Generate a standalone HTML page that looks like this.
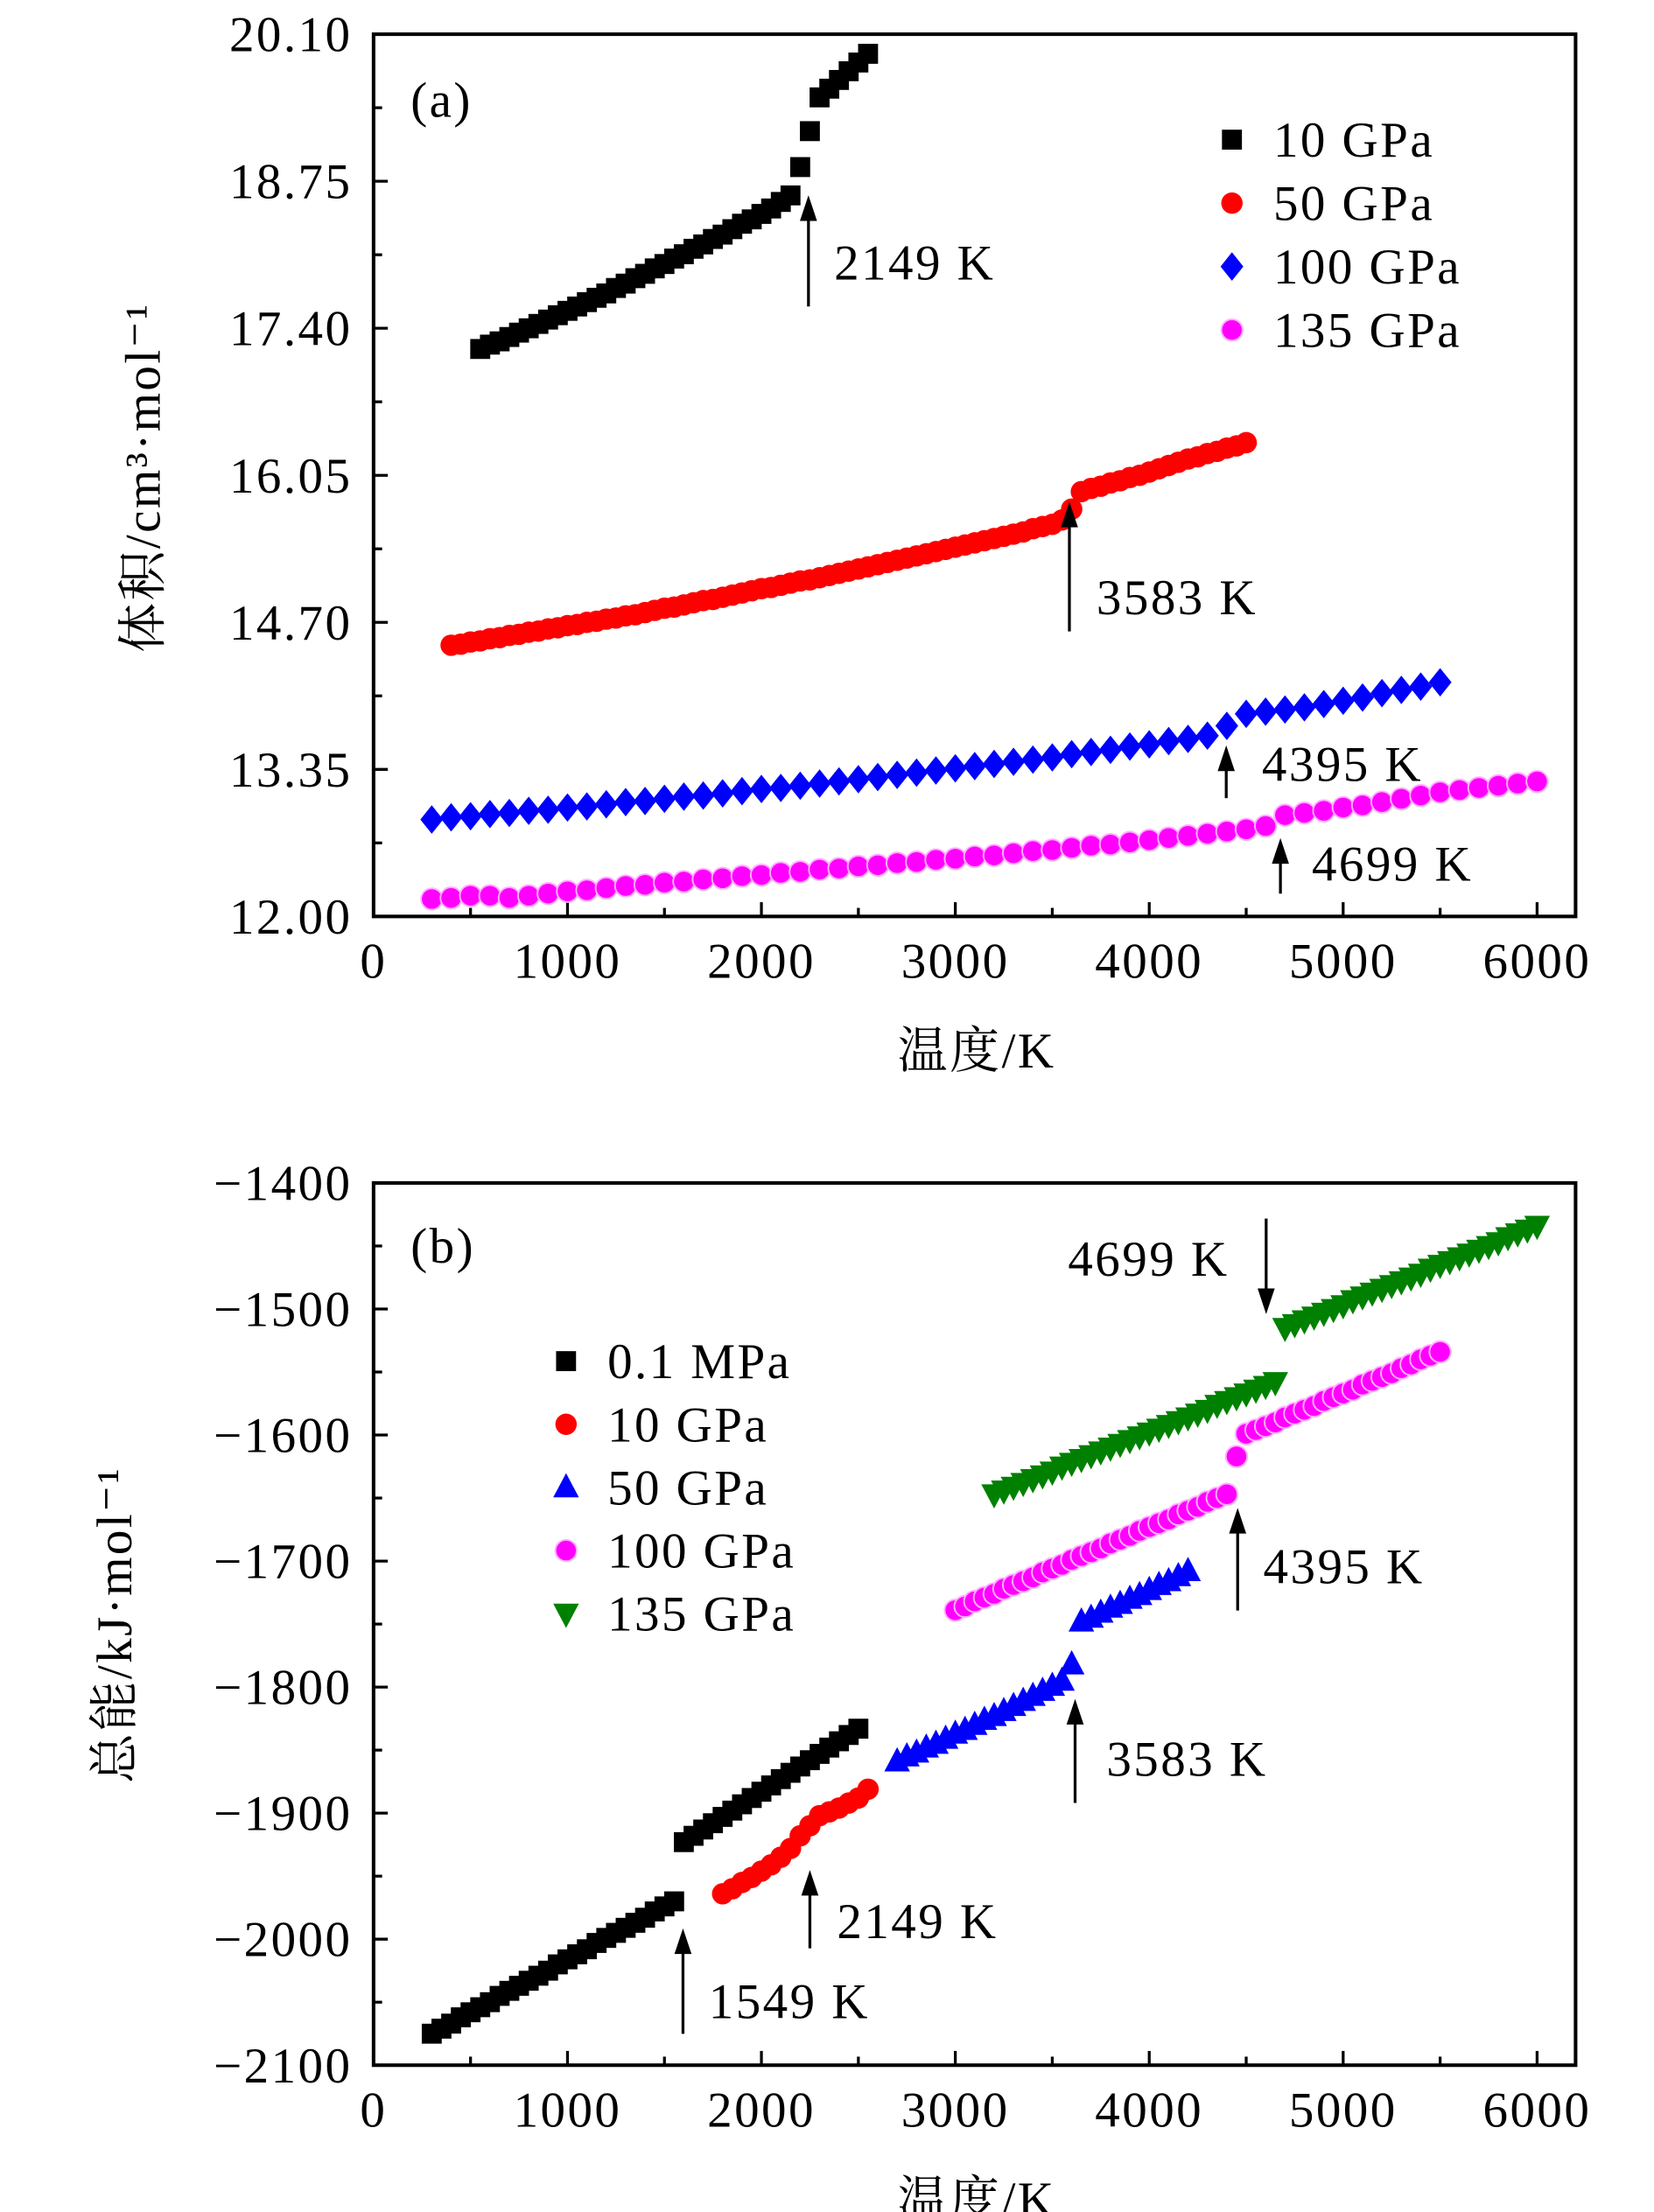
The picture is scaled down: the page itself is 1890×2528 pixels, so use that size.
<!DOCTYPE html>
<html><head><meta charset="utf-8">
<style>html,body{margin:0;padding:0;background:#fff}svg{display:block}
text{font-family:"Liberation Serif","Noto Serif CJK SC",serif;fill:#000;letter-spacing:1.5px}</style></head>
<body>
<svg id="fig" width="1890" height="2528" viewBox="0 0 1160 1552" preserveAspectRatio="none" xmlns="http://www.w3.org/2000/svg"></svg>
<script>
// ---- Panel (a) data ----
const aT10 = [550,600,650,700,750,800,850,900,950,1000,1050,1100,1150,1200,1250,1300,1350,1400,1450,1500,1550,1600,1650,1700,1750,1800,1850,1900,1950,2000,2050,2100,2150,2200,2250,2300,2350,2400,2450,2500,2550];
const aV10 = [17.21,17.25,17.28,17.32,17.36,17.40,17.44,17.48,17.52,17.56,17.60,17.64,17.68,17.72,17.77,17.81,17.86,17.90,17.95,17.99,18.04,18.08,18.13,18.17,18.22,18.26,18.31,18.36,18.40,18.45,18.50,18.56,18.62,18.88,19.21,19.52,19.60,19.68,19.76,19.84,19.92];
const aT50 = [400,450,500,550,600,650,700,750,800,850,900,950,1000,1050,1100,1150,1200,1250,1300,1350,1400,1450,1500,1550,1600,1650,1700,1750,1800,1850,1900,1950,2000,2050,2100,2150,2200,2250,2300,2350,2400,2450,2500,2550,2600,2650,2700,2750,2800,2850,2900,2950,3000,3050,3100,3150,3200,3250,3300,3350,3400,3450,3500,3550,3600,3650,3700,3750,3800,3850,3900,3950,4000,4050,4100,4150,4200,4250,4300,4350,4400,4450,4500];
const aV50 = [14.49,14.50,14.52,14.53,14.55,14.56,14.58,14.59,14.61,14.62,14.64,14.65,14.67,14.68,14.70,14.71,14.73,14.74,14.76,14.77,14.79,14.81,14.83,14.84,14.86,14.88,14.90,14.91,14.93,14.95,14.97,14.99,15.01,15.02,15.04,15.06,15.08,15.09,15.11,15.13,15.15,15.17,15.19,15.21,15.23,15.25,15.27,15.29,15.31,15.33,15.35,15.37,15.39,15.41,15.43,15.45,15.47,15.49,15.51,15.53,15.56,15.58,15.60,15.64,15.74,15.90,15.93,15.95,15.98,16.00,16.03,16.05,16.08,16.11,16.14,16.17,16.20,16.22,16.25,16.27,16.30,16.32,16.35];
const aT100 = [300,400,500,600,700,800,900,1000,1100,1200,1300,1400,1500,1600,1700,1800,1900,2000,2100,2200,2300,2400,2500,2600,2700,2800,2900,3000,3100,3200,3300,3400,3500,3600,3700,3800,3900,4000,4100,4200,4300,4400,4500,4600,4700,4800,4900,5000,5100,5200,5300,5400,5500];
const aV100 = [12.89,12.91,12.92,12.94,12.95,12.97,12.98,13.00,13.01,13.03,13.05,13.06,13.08,13.10,13.11,13.13,13.15,13.17,13.18,13.20,13.22,13.24,13.26,13.28,13.30,13.32,13.34,13.36,13.38,13.40,13.42,13.44,13.46,13.49,13.51,13.53,13.56,13.58,13.61,13.63,13.66,13.75,13.86,13.88,13.90,13.92,13.95,13.98,14.01,14.05,14.08,14.11,14.15];
const aT135 = [300,400,500,600,700,800,900,1000,1100,1200,1300,1400,1500,1600,1700,1800,1900,2000,2100,2200,2300,2400,2500,2600,2700,2800,2900,3000,3100,3200,3300,3400,3500,3600,3700,3800,3900,4000,4100,4200,4300,4400,4500,4600,4700,4800,4900,5000,5100,5200,5300,5400,5500,5600,5700,5800,5900,6000];
const aV135 = [12.16,12.17,12.19,12.19,12.17,12.19,12.21,12.23,12.24,12.26,12.28,12.29,12.31,12.32,12.34,12.35,12.37,12.38,12.40,12.41,12.43,12.44,12.46,12.47,12.49,12.50,12.52,12.53,12.55,12.56,12.58,12.60,12.61,12.63,12.65,12.66,12.68,12.70,12.72,12.74,12.76,12.78,12.80,12.83,12.93,12.95,12.97,13.00,13.02,13.05,13.08,13.11,13.14,13.16,13.18,13.20,13.22,13.24];
const aYTicks = ["12.00","13.35","14.70","16.05","17.40","18.75","20.10"];
const xTicks = ["0","1000","2000","3000","4000","5000","6000"];
// ---- Panel (b) data ----
const bT01 = [300,350,400,450,500,550,600,650,700,750,800,850,900,950,1000,1050,1100,1150,1200,1250,1300,1350,1400,1450,1500,1550,1600,1650,1700,1750,1800,1850,1900,1950,2000,2050,2100,2150,2200,2250,2300,2350,2400,2450,2500];
const bE01 = [-2075,-2071,-2067,-2062,-2058,-2054,-2050,-2045,-2041,-2037,-2033,-2029,-2025,-2020,-2016,-2012,-2008,-2003,-1999,-1995,-1991,-1987,-1983,-1978,-1974,-1970,-1923,-1918,-1913,-1908,-1903,-1898,-1893,-1888,-1883,-1878,-1873,-1868,-1863,-1858,-1853,-1848,-1843,-1838,-1833];
const bT10 = [1800,1850,1900,1950,2000,2050,2100,2150,2200,2250,2300,2350,2400,2450,2500,2550];
const bE10 = [-1964,-1960,-1955,-1951,-1946,-1941,-1935,-1928,-1918,-1910,-1902,-1899,-1896,-1892,-1888,-1881];
const bT50 = [2700,2750,2800,2850,2900,2950,3000,3050,3100,3150,3200,3250,3300,3350,3400,3450,3500,3550,3600,3650,3700,3750,3800,3850,3900,3950,4000,4050,4100,4150,4200];
const bE50 = [-1859,-1855,-1852,-1848,-1845,-1841,-1837,-1834,-1830,-1826,-1823,-1819,-1815,-1811,-1807,-1803,-1799,-1795,-1782,-1748,-1745,-1741,-1737,-1734,-1730,-1727,-1723,-1719,-1716,-1712,-1708];
const bT100 = [3000,3050,3100,3150,3200,3250,3300,3350,3400,3450,3500,3550,3600,3650,3700,3750,3800,3850,3900,3950,4000,4050,4100,4150,4200,4250,4300,4350,4400,4450,4500,4550,4600,4650,4700,4750,4800,4850,4900,4950,5000,5050,5100,5150,5200,5250,5300,5350,5400,5450,5500];
const bE100 = [-1739,-1736,-1732,-1729,-1726,-1722,-1719,-1716,-1713,-1709,-1706,-1703,-1699,-1696,-1693,-1690,-1686,-1683,-1680,-1676,-1673,-1670,-1667,-1663,-1660,-1657,-1653,-1650,-1647,-1617,-1599,-1596,-1593,-1590,-1586,-1583,-1580,-1577,-1573,-1570,-1567,-1564,-1560,-1557,-1554,-1551,-1547,-1544,-1540,-1537,-1534];
const bT135 = [3200,3250,3300,3350,3400,3450,3500,3550,3600,3650,3700,3750,3800,3850,3900,3950,4000,4050,4100,4150,4200,4250,4300,4350,4400,4450,4500,4550,4600,4650,4700,4750,4800,4850,4900,4950,5000,5050,5100,5150,5200,5250,5300,5350,5400,5450,5500,5550,5600,5650,5700,5750,5800,5850,5900,5950,6000];
const bE135 = [-1647,-1644,-1641,-1638,-1635,-1632,-1629,-1625,-1622,-1619,-1616,-1613,-1610,-1607,-1604,-1601,-1598,-1595,-1592,-1589,-1586,-1583,-1580,-1576,-1573,-1570,-1567,-1564,-1561,-1558,-1515,-1512,-1509,-1506,-1503,-1500,-1497,-1493,-1490,-1487,-1484,-1481,-1478,-1475,-1472,-1468,-1465,-1462,-1459,-1456,-1453,-1450,-1447,-1443,-1440,-1437,-1434];
const bYTicks = ["−2100","−2000","−1900","−1800","−1700","−1600","−1500","−1400"];

const NS = "http://www.w3.org/2000/svg";
const svg = document.getElementById('fig');
function mk(tag, attrs, parent){const e=document.createElementNS(NS,tag);for(const k in attrs)e.setAttribute(k,attrs[k]);(parent||svg).appendChild(e);return e;}
const L=262,R=1105,X0=262,X6=1078;
function sx(t){return X0+(t/6000)*(X6-X0);}

function marker(g,type,x,y,color){
  let e;
  if(type==='sq'){e=mk('rect',{x:x-7,y:y-7,width:14,height:14,fill:color},g);}
  else if(type==='ci'){e=mk('circle',{cx:x,cy:y,r:7.5,fill:color},g);}
  else if(type==='sp'){e=mk('circle',{cx:x,cy:y,r:7.5,fill:color,stroke:'#ffb0ff','stroke-width':1.2},g);}
  else if(type==='di'){e=mk('polygon',{points:`${x},${y-10} ${x+8},${y} ${x},${y+10} ${x-8},${y}`,fill:color},g);}
  else if(type==='tu'){e=mk('polygon',{points:`${x},${y-10} ${x+9},${y+7} ${x-9},${y+7}`,fill:color},g);}
  else if(type==='td'){e=mk('polygon',{points:`${x},${y+10} ${x+9},${y-7} ${x-9},${y-7}`,fill:color},g);}
  
  
  return e;
}
function txt(x,y,s,attrs,name,parent){const t=mk('text',Object.assign({x:x,y:y,'font-size':35},attrs||{}),parent);t.textContent=s;
  
  
  return t;}
function arrow(x,y1,y2,name){
  const g=mk('g',{});
  
  
  const d=y2<y1?1:-1;
  mk('line',{x1:x,y1:y1,x2:x,y2:y2+d*10,stroke:'#000','stroke-width':2},g);
  mk('polygon',{points:`${x},${y2} ${x-6},${y2+d*18} ${x+6},${y2+d*18}`,fill:'#000'},g);
}

function panel(cfg){
  const g=mk('g',{});
  
  
  const sy=v=>cfg.B-(v-cfg.vmin)/(cfg.vmax-cfg.vmin)*(cfg.B-cfg.T);
  const fr=mk('rect',{x:L,y:cfg.T,width:R-L,height:cfg.B-cfg.T,fill:'none',stroke:'#000','stroke-width':2.5},g);
  
  
  const n=cfg.yt.length;
  for(let i=0;i<n;i++){
    const v=cfg.vmin+(cfg.vmax-cfg.vmin)*i/(n-1), y=sy(v);
    mk('line',{x1:L,y1:y,x2:L+10,y2:y,stroke:'#000','stroke-width':2},g);
    if(i<n-1){const ym=sy(v+(cfg.vmax-cfg.vmin)/(n-1)/2);mk('line',{x1:L,y1:ym,x2:L+6,y2:ym,stroke:'#000','stroke-width':2},g);}
    txt(247,y+12,cfg.yt[i],{'text-anchor':'end'},'y-tick-label',g);
  }
  for(let i=0;i<xTicks.length;i++){
    const t=i*1000,x=sx(t);
    mk('line',{x1:x,y1:cfg.B,x2:x,y2:cfg.B-10,stroke:'#000','stroke-width':2},g);
    const xm=sx(t+500); if(xm<R) mk('line',{x1:xm,y1:cfg.B,x2:xm,y2:cfg.B-6,stroke:'#000','stroke-width':2},g);
    txt(x,cfg.B+43,xTicks[i],{'text-anchor':'middle'},'x-tick-label',g);
  }
  txt(685,cfg.B+106,'温度/K',{'text-anchor':'middle'},'x-axis-title',g);
  txt(0,0,cfg.ytitle,{'text-anchor':'middle',transform:`translate(${cfg.ytx},${cfg.yty}) rotate(-90)`},'y-axis-title',g);
  cfg.series.forEach(s=>{
    const sg=mk('g',{},g);
    
    
    for(let i=0;i<s.t.length;i++) marker(sg,s.m,sx(s.t[i]),sy(s.v[i]),s.c);
  });
  cfg.series.forEach((s,i)=>{
    const ly=cfg.legY+i*cfg.legDy;
    const lg=mk('g',{},g);
    
    
    marker(lg,s.m,cfg.legX,ly,s.c);
    txt(cfg.legX+29,ly+12,s.label,{},'legend-label',lg);
  });
  return sy;
}

panel({name:'panel-a',T:24,B:643,vmin:12,vmax:20.1,yt:aYTicks,ytitle:'体积/cm³·mol⁻¹',ytx:112,yty:335,
  legX:864,legY:98,legDy:44.5,
  series:[{label:'10 GPa',m:'sq',c:'#000',t:aT10,v:aV10},{label:'50 GPa',m:'ci',c:'#f00',t:aT50,v:aV50},
          {label:'100 GPa',m:'di',c:'#00f',t:aT100,v:aV100},{label:'135 GPa',m:'sp',c:'#f0f',t:aT135,v:aV135}]});
txt(288,82,'(a)',{},'panel-label-a');
arrow(567,215,137,'arrow-2149k'); txt(585,196,'2149 K',{},'annotation-2149k');
arrow(750,443,352,'arrow-3583k'); txt(769,431,'3583 K',{},'annotation-3583k');
arrow(860,560,523,'arrow-4395k'); txt(885,548,'4395 K',{},'annotation-4395k');
arrow(898,627,588,'arrow-4699k'); txt(920,618,'4699 K',{},'annotation-4699k');

panel({name:'panel-b',T:830,B:1449,vmin:-2100,vmax:-1400,yt:bYTicks,ytitle:'总能/kJ·mol⁻¹',ytx:92,yty:1140,
  legX:397,legY:955,legDy:44.3,
  series:[{label:'0.1 MPa',m:'sq',c:'#000',t:bT01,v:bE01},{label:'10 GPa',m:'ci',c:'#f00',t:bT10,v:bE10},
          {label:'50 GPa',m:'tu',c:'#00f',t:bT50,v:bE50},{label:'100 GPa',m:'sp',c:'#f0f',t:bT100,v:bE100},
          {label:'135 GPa',m:'td',c:'#008000',t:bT135,v:bE135}]});
txt(288,886,'(b)',{},'panel-label-b');
txt(862,895,'4699 K',{'text-anchor':'end'},'annotation-4699k-b'); arrow(888,855,922,'arrow-4699k-b');
arrow(868,1130,1058,'arrow-4395k-b'); txt(886,1111,'4395 K',{},'annotation-4395k-b');
arrow(754,1265,1192,'arrow-3583k-b'); txt(776,1246,'3583 K',{},'annotation-3583k-b');
arrow(568,1367,1312,'arrow-2149k-b'); txt(587,1360,'2149 K',{},'annotation-2149k-b');
arrow(479,1427,1353,'arrow-1549k-b'); txt(497,1416,'1549 K',{},'annotation-1549k-b');
</script>
</body></html>
